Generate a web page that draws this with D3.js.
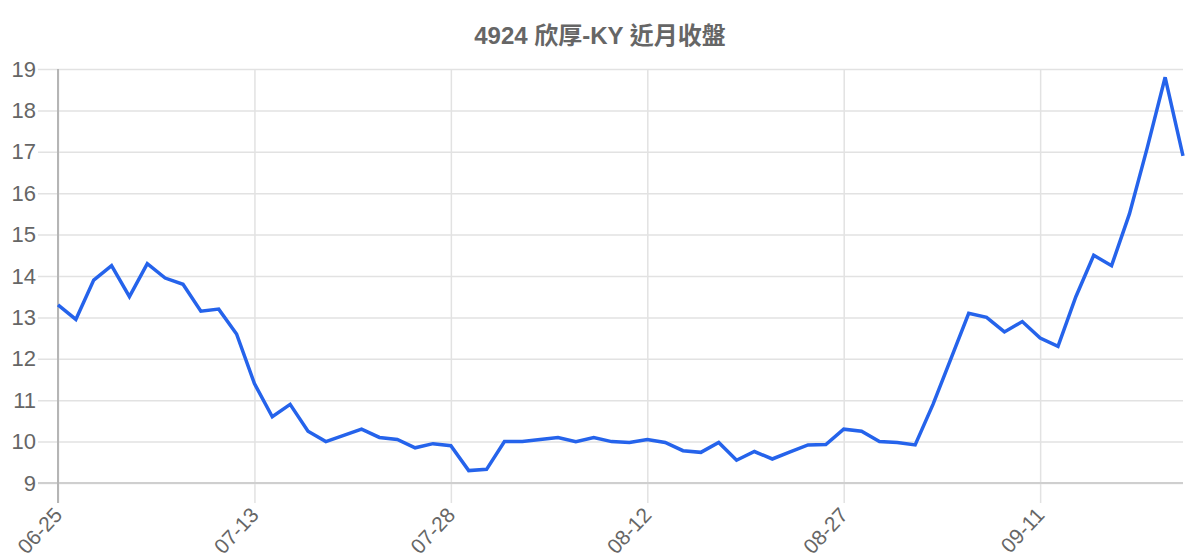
<!DOCTYPE html>
<html lang="zh-Hant">
<head>
    <meta charset="UTF-8">
    <title>4924 欣厚-KY 近月收盤</title>
    <script src="https://d3js.org/d3.v7.min.js"></script>
    <style>
        body { margin: 0; background: #fff; }
        svg { display: block; font-family: "Liberation Sans", Arial, "Noto Sans CJK TC", sans-serif; }
        .grid line { stroke: #e2e2e2; stroke-width: 1.5; }
        .axis text { fill: #666; }
    </style>
</head>
<body>
<svg id="chart" width="1200" height="560"></svg>
<script>
    const title = "4924 欣厚-KY 近月收盤";

    const dates = [
        "06-25", "06-29", "06-30", "07-01", "07-02", "07-03", "07-06", "07-07", "07-08", "07-09", "07-10",
        "07-13", "07-14", "07-15", "07-16", "07-17", "07-20", "07-21", "07-22", "07-23", "07-24", "07-27",
        "07-28", "07-29", "07-30", "07-31", "08-03", "08-04", "08-05", "08-06", "08-07", "08-10", "08-11",
        "08-12", "08-13", "08-14", "08-17", "08-18", "08-19", "08-20", "08-21", "08-24", "08-25", "08-26",
        "08-27", "08-28", "08-31", "09-01", "09-02", "09-03", "09-04", "09-07", "09-08", "09-09", "09-10",
        "09-11", "09-14", "09-15", "09-16", "09-17", "09-18", "09-21", "09-22", "09-23"
    ];

    const closes = [
        13.3, 12.95, 13.9, 14.25, 13.5, 14.3, 13.95, 13.8, 13.15, 13.2, 12.6,
        11.4, 10.6, 10.9, 10.25, 10.0, 10.15, 10.3, 10.1, 10.05, 9.85, 9.95,
        9.9, 9.3, 9.33, 10.0, 10.0, 10.05, 10.1, 10.0, 10.1, 10.0, 9.98,
        10.05, 9.98, 9.78, 9.74, 9.98, 9.55, 9.76, 9.58, 9.75, 9.92, 9.93,
        10.3, 10.25, 10.0, 9.98, 9.92, 10.9, 12.0, 13.1, 13.0, 12.65, 12.9,
        12.5, 12.3, 13.5, 14.5, 14.25, 15.5, 17.1, 18.8, 16.9
    ];

    const yTicks = [9, 10, 11, 12, 13, 14, 15, 16, 17, 18, 19];
    const labelEvery = 11;

    const svg = d3.select("#chart");
    const margin = {top: 69, right: 17, bottom: 77, left: 58};
    const width = 1200 - margin.left - margin.right;
    const height = 560 - margin.top - margin.bottom;

    const g = svg.append("g").attr("transform", `translate(${margin.left},${margin.top})`);

    const x = d3.scalePoint()
        .domain(d3.range(dates.length))
        .range([0, width]);

    const y = d3.scaleLinear()
        .domain([d3.min(yTicks), d3.max(yTicks)])
        .range([height, 0]);

    const xTickIdx = d3.range(0, dates.length, labelEvery);

    // horizontal grid
    g.append("g")
        .attr("class", "grid")
        .attr("transform", "translate(-20,0)")
        .call(d3.axisLeft(y).tickValues(yTicks).tickSize(-width - 20).tickFormat(""))
        .call(s => s.select(".domain").remove());

    // vertical grid
    g.append("g")
        .attr("class", "grid")
        .attr("transform", `translate(0,${height + 20})`)
        .call(d3.axisBottom(x).tickValues(xTickIdx).tickSize(-height - 20).tickFormat(""))
        .call(s => s.select(".domain").remove());

    // axis lines
    g.append("line")
        .attr("x1", -20).attr("x2", width)
        .attr("y1", height).attr("y2", height)
        .attr("stroke", "#cfcfcf").attr("stroke-width", 2);
    g.append("line")
        .attr("x1", 0).attr("x2", 0)
        .attr("y1", 0).attr("y2", height + 20)
        .attr("stroke", "#b5b5b5").attr("stroke-width", 2);

    // y labels
    const yAxis = g.append("g")
        .attr("class", "axis")
        .call(d3.axisLeft(y).tickValues(yTicks).tickSize(0).tickPadding(22));
    yAxis.select(".domain").remove();
    yAxis.selectAll("text")
        .style("font-size", "22px");

    // x labels
    const xAxis = g.append("g")
        .attr("class", "axis")
        .attr("transform", `translate(0,${height})`)
        .call(d3.axisBottom(x).tickValues(xTickIdx).tickSize(0).tickFormat(i => dates[i]));
    xAxis.select(".domain").remove();
    xAxis.selectAll("text")
        .style("font-size", "21px")
        .style("text-anchor", "end")
        .attr("dy", 0)
        .attr("y", 0)
        .attr("transform", "translate(5,33) rotate(-47)");

    // line
    const line = d3.line()
        .x((d, i) => x(i))
        .y(d => y(d));

    g.append("path")
        .datum(closes)
        .attr("fill", "none")
        .attr("stroke", "#2563eb")
        .attr("stroke-width", 3.5)
        .attr("stroke-linejoin", "miter")
        .attr("d", line);

    svg.append("text")
        .attr("x", 600)
        .attr("y", 44)
        .attr("text-anchor", "middle")
        .style("font-size", "24px")
        .style("font-weight", "bold")
        .style("fill", "#666")
        .text(title);
</script>
</body>
</html>
